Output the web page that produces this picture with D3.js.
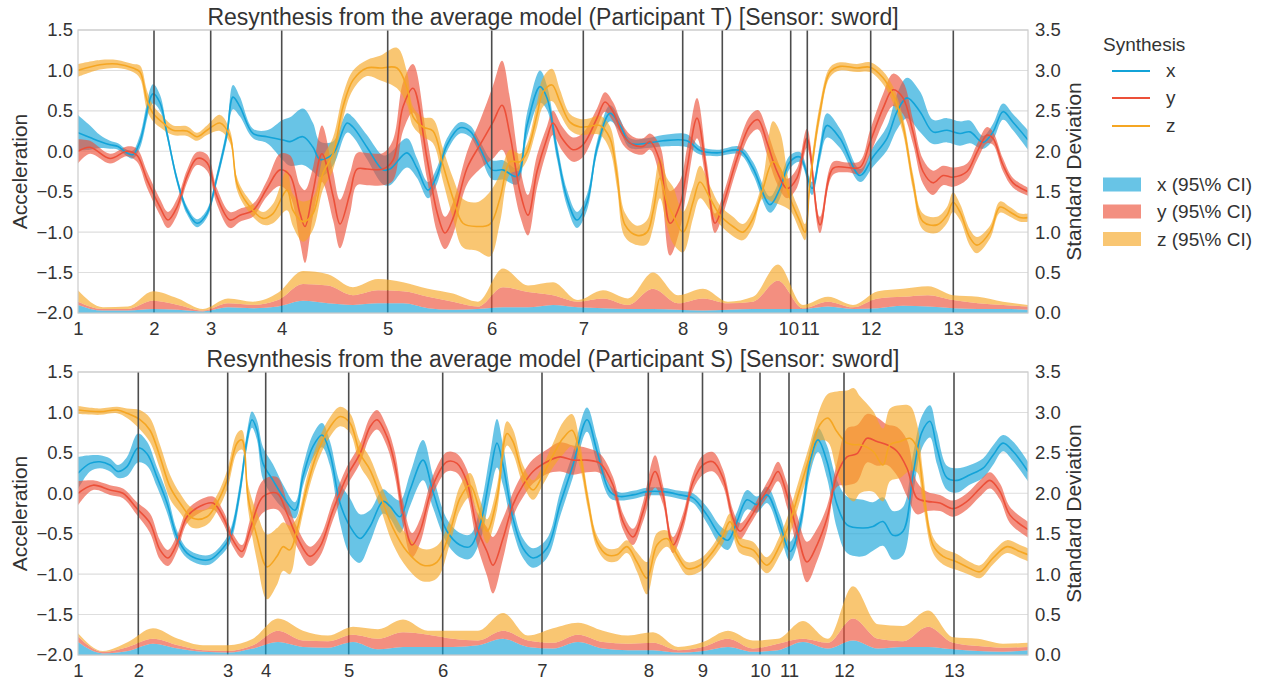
<!DOCTYPE html>
<html><head><meta charset="utf-8">
<script src="https://cdn.jsdelivr.net/npm/d3@7"></script>
<style>
body{margin:0;background:#fff}
svg text{font-family:"Liberation Sans",Arial,sans-serif;fill:#333}
</style>
</head><body><svg id="c" width="1265" height="680"></svg>
<script>
// ---------- DATA ----------
const segLabels = ["1","2","3","4","5","6","7","8","9","10","11","12","13"];
const segT = [0, 76, 132.7, 203.7, 309.7, 413.7, 505.3, 604.7, 644.3, 712.7, 729.3, 792.7, 875.3];
const segS = [0, 60.3, 149.7, 187.7, 270.7, 364.7, 464, 570.3, 624.5, 682, 711, 766, 876];
const accTicks = [-2.0,-1.5,-1.0,-0.5,0.0,0.5,1.0,1.5];
const sdTicks = [0.0,0.5,1.0,1.5,2.0,2.5,3.0,3.5];
const seriesNames = ["x","y","z"];
const titles = ["Resynthesis from the average model (Participant T) [Sensor: sword]",
                "Resynthesis from the average model (Participant S) [Sensor: sword]"];

// [time, mean, 95% CI half-width]  -- Participant T
const xT = [[0,0.23,0.22],[12,0.17,0.15],[22,0.12,0.08],[32,0.08,0.05],[40,0.06,0.04],[49,-0.02,0.04],[55,-0.04,0.05],[62,0.12,0.08],[75,0.71,0.12],[82,0.6,0.1],[89,0.22,0.06],[99,-0.35,0.05],[109,-0.73,0.05],[119,-0.89,0.05],[129,-0.77,0.05],[139,-0.32,0.06],[149,0.22,0.08],[155,0.67,0.15],[162,0.55,0.12],[175,0.22,0.06],[189,0.18,0.08],[205,0.14,0.25],[212,0.12,0.3],[225,0.18,0.35],[235,0.05,0.3],[242,-0.1,0.22],[255,-0.03,0.15],[269,0.35,0.12],[275,0.3,0.12],[289,0.05,0.15],[305,-0.23,0.18],[312,-0.22,0.2],[329,-0.02,0.18],[339,-0.21,0.12],[350,-0.48,0.1],[359,-0.3,0.1],[369,0.08,0.08],[382,0.29,0.07],[392,0.25,0.07],[402,0.04,0.08],[414,-0.23,0.12],[425,-0.23,0.12],[439,-0.31,0.1],[449,0.32,0.15],[462,0.8,0.2],[469,0.66,0.15],[479,0.0,0.1],[489,-0.58,0.1],[499,-0.85,0.1],[509,-0.63,0.1],[519,0.04,0.08],[532,0.47,0.1],[542,0.32,0.08],[552,0.1,0.06],[569,0.1,0.06],[585,0.13,0.07],[609,0.13,0.08],[622,0.01,0.05],[639,-0.02,0.04],[662,0.01,0.05],[675,-0.21,0.08],[692,-0.66,0.1],[702,-0.46,0.12],[712,-0.13,0.08],[722,-0.07,0.06],[734,-0.46,0.08],[742,-0.01,0.1],[749,0.32,0.15],[762,0.16,0.12],[782,-0.3,0.08],[795,-0.07,0.12],[809,0.16,0.15],[819,0.49,0.22],[829,0.66,0.25],[842,0.49,0.25],[855,0.24,0.15],[869,0.26,0.15],[882,0.22,0.15],[892,0.24,0.14],[905,0.11,0.08],[915,0.24,0.1],[925,0.49,0.1],[935,0.36,0.1],[950,0.14,0.12]];
const yT = [[0,0.0,0.15],[12,0.05,0.08],[32,-0.09,0.06],[49,0.0,0.06],[59,-0.05,0.08],[69,-0.35,0.1],[82,-0.69,0.1],[90,-0.85,0.1],[99,-0.69,0.1],[109,-0.31,0.08],[119,-0.09,0.08],[129,-0.14,0.1],[139,-0.56,0.1],[152,-0.85,0.1],[162,-0.79,0.08],[175,-0.73,0.08],[189,-0.46,0.1],[202,-0.23,0.2],[212,-0.3,0.25],[222,-0.77,0.35],[227,-0.93,0.45],[235,-0.5,0.3],[244,-0.03,0.35],[255,-0.55,0.3],[262,-0.9,0.3],[272,-0.52,0.25],[279,-0.22,0.2],[289,-0.22,0.2],[305,-0.22,0.2],[315,-0.11,0.25],[325,0.55,0.3],[335,0.78,0.3],[349,-0.09,0.25],[359,-0.75,0.25],[367,-1.01,0.2],[375,-0.83,0.2],[389,-0.21,0.2],[402,0.08,0.3],[415,0.36,0.45],[424,0.57,0.55],[432,0.2,0.45],[442,-0.5,0.3],[450,-0.79,0.25],[459,-0.25,0.2],[469,0.16,0.15],[475,0.35,0.15],[484,0.16,0.15],[495,0.02,0.15],[505,0.08,0.15],[519,0.41,0.12],[527,0.61,0.12],[535,0.49,0.12],[545,0.2,0.12],[555,0.08,0.1],[565,0.06,0.1],[572,0.12,0.1],[582,-0.13,0.2],[592,-0.89,0.4],[602,-0.66,0.3],[609,-0.21,0.25],[619,0.41,0.25],[629,-0.3,0.15],[637,-0.89,0.12],[645,-0.66,0.12],[659,-0.09,0.12],[672,0.32,0.12],[680,0.39,0.12],[689,0.11,0.15],[699,-0.25,0.15],[709,-0.46,0.12],[719,-0.33,0.12],[729,0.16,0.12],[742,-0.91,0.1],[755,-0.21,0.08],[769,-0.2,0.06],[782,-0.2,0.08],[792,0.11,0.15],[805,0.53,0.18],[815,0.76,0.2],[825,0.66,0.2],[835,0.24,0.15],[845,-0.25,0.15],[855,-0.39,0.15],[865,-0.3,0.12],[875,-0.32,0.12],[889,-0.25,0.1],[899,-0.01,0.1],[909,0.2,0.1],[915,0.16,0.08],[925,-0.17,0.08],[935,-0.39,0.06],[950,-0.5,0.05]];
const zT = [[0,1.0,0.08],[22,1.07,0.06],[39,1.08,0.05],[55,1.03,0.05],[62,0.98,0.08],[69,0.63,0.12],[75,0.47,0.1],[85,0.35,0.08],[95,0.26,0.06],[109,0.25,0.06],[119,0.18,0.05],[129,0.26,0.06],[142,0.35,0.1],[152,0.18,0.08],[159,-0.4,0.08],[169,-0.64,0.08],[185,-0.83,0.08],[195,-0.77,0.12],[209,-0.48,0.25],[215,-0.73,0.2],[225,-0.87,0.25],[235,-0.77,0.2],[245,-0.27,0.2],[255,-0.03,0.2],[265,0.55,0.15],[275,0.88,0.12],[289,1.03,0.1],[302,1.03,0.15],[319,1.03,0.25],[329,0.78,0.2],[335,0.43,0.12],[345,0.3,0.12],[355,0.25,0.15],[365,-0.17,0.2],[375,-0.58,0.25],[385,-0.89,0.3],[399,-0.93,0.3],[412,-0.9,0.4],[422,-0.58,0.3],[432,-0.13,0.15],[442,-0.13,0.1],[449,-0.01,0.1],[459,0.45,0.15],[465,0.73,0.18],[474,0.82,0.2],[482,0.61,0.15],[492,0.36,0.1],[502,0.3,0.1],[512,0.31,0.1],[522,0.32,0.12],[532,0.16,0.15],[539,-0.3,0.15],[547,-0.91,0.15],[559,-1.04,0.12],[569,-1.0,0.15],[575,-0.75,0.2],[582,-0.33,0.25],[589,-0.63,0.3],[595,-0.79,0.35],[605,-1.0,0.25],[615,-0.63,0.2],[622,-0.38,0.2],[632,-0.58,0.15],[642,-0.79,0.12],[655,-0.93,0.12],[665,-1.0,0.1],[675,-0.83,0.1],[685,-0.46,0.12],[695,-0.13,0.5],[702,-0.21,0.45],[712,-0.58,0.15],[722,-0.87,0.12],[727,-1.0,0.1],[732,-0.38,0.1],[742,0.49,0.1],[752,0.98,0.06],[762,1.05,0.05],[779,1.03,0.05],[792,1.04,0.06],[805,0.91,0.08],[815,0.7,0.1],[825,0.32,0.1],[835,-0.38,0.1],[845,-0.87,0.1],[859,-0.91,0.1],[869,-0.79,0.1],[875,-0.63,0.12],[882,-0.75,0.1],[892,-1.07,0.1],[899,-1.16,0.1],[912,-1.0,0.08],[922,-0.69,0.07],[932,-0.75,0.06],[942,-0.82,0.05],[950,-0.82,0.05]];

// Participant S
const xS = [[0,0.25,0.2],[12,0.37,0.1],[22,0.39,0.08],[32,0.35,0.08],[40,0.27,0.08],[49,0.33,0.12],[60,0.56,0.18],[69,0.49,0.15],[79,0.2,0.12],[89,-0.12,0.12],[99,-0.54,0.08],[109,-0.74,0.06],[122,-0.82,0.06],[132,-0.82,0.06],[142,-0.72,0.06],[152,-0.54,0.08],[162,0.04,0.1],[169,0.66,0.1],[174,0.91,0.1],[179,0.78,0.12],[185,0.37,0.2],[195,0.16,0.2],[205,-0.04,0.15],[217,-0.21,0.1],[225,0.21,0.12],[235,0.58,0.15],[244,0.72,0.15],[252,0.49,0.15],[262,-0.12,0.25],[272,-0.41,0.35],[282,-0.56,0.3],[292,-0.41,0.2],[305,-0.1,0.15],[312,-0.16,0.15],[322,-0.29,0.2],[332,0.04,0.2],[345,0.41,0.25],[355,0.02,0.2],[369,-0.47,0.15],[382,-0.64,0.15],[392,-0.66,0.15],[402,-0.39,0.2],[412,0.23,0.25],[419,0.62,0.3],[425,0.35,0.25],[435,-0.31,0.15],[445,-0.68,0.12],[455,-0.8,0.12],[469,-0.68,0.12],[482,-0.14,0.15],[495,0.35,0.15],[509,0.91,0.15],[519,0.52,0.15],[532,0.02,0.08],[542,-0.04,0.05],[555,-0.02,0.05],[569,0.02,0.05],[585,0.02,0.05],[602,-0.02,0.05],[615,-0.06,0.06],[629,-0.27,0.1],[642,-0.52,0.12],[650,-0.58,0.12],[659,-0.35,0.12],[669,-0.08,0.12],[679,-0.14,0.1],[689,-0.02,0.1],[702,-0.39,0.12],[712,-0.72,0.12],[722,-0.39,0.12],[732,0.39,0.15],[740,0.66,0.15],[749,0.39,0.2],[759,-0.14,0.3],[769,-0.39,0.35],[785,-0.43,0.35],[795,-0.41,0.3],[805,-0.35,0.3],[815,-0.52,0.3],[825,-0.47,0.3],[835,0.23,0.25],[844,0.76,0.2],[852,0.89,0.2],[859,0.56,0.2],[869,0.19,0.15],[879,0.16,0.15],[892,0.23,0.12],[905,0.31,0.12],[915,0.47,0.12],[925,0.62,0.1],[935,0.52,0.12],[950,0.27,0.12]];
const yS = [[0,0.0,0.15],[15,0.1,0.06],[32,0.04,0.06],[45,0.0,0.06],[59,-0.19,0.08],[72,-0.37,0.12],[82,-0.7,0.12],[90,-0.8,0.1],[99,-0.62,0.1],[109,-0.29,0.08],[122,-0.16,0.08],[135,-0.12,0.08],[145,-0.29,0.08],[155,-0.58,0.08],[164,-0.72,0.08],[172,-0.45,0.12],[185,-0.04,0.2],[199,0.0,0.2],[209,-0.25,0.15],[219,-0.54,0.12],[232,-0.78,0.12],[242,-0.66,0.12],[255,-0.21,0.12],[269,0.21,0.12],[282,0.49,0.12],[292,0.82,0.12],[299,0.91,0.12],[309,0.7,0.12],[317,0.35,0.15],[325,-0.25,0.15],[334,-0.64,0.15],[342,-0.47,0.15],[355,0.1,0.12],[369,0.39,0.12],[379,0.37,0.12],[389,0.14,0.15],[399,-0.43,0.2],[409,-0.72,0.3],[415,-0.89,0.35],[425,-0.56,0.25],[435,-0.14,0.15],[445,0.1,0.15],[455,0.27,0.15],[469,0.39,0.15],[482,0.45,0.18],[495,0.41,0.18],[509,0.41,0.15],[522,0.37,0.12],[535,0.1,0.1],[545,-0.35,0.1],[555,-0.54,0.1],[565,-0.23,0.12],[577,0.27,0.2],[585,-0.02,0.12],[595,-0.64,0.1],[605,-0.35,0.1],[615,0.14,0.1],[625,0.35,0.12],[635,0.39,0.12],[645,0.19,0.1],[655,-0.31,0.1],[662,-0.47,0.1],[672,-0.31,0.08],[682,-0.1,0.08],[692,0.1,0.1],[700,0.27,0.12],[709,-0.02,0.15],[719,-0.47,0.2],[729,-0.85,0.25],[739,-0.64,0.2],[749,-0.31,0.15],[759,0.23,0.15],[769,0.45,0.35],[779,0.49,0.35],[789,0.68,0.3],[799,0.64,0.3],[809,0.6,0.25],[819,0.52,0.3],[829,0.31,0.35],[839,-0.06,0.2],[849,-0.1,0.12],[862,-0.12,0.1],[875,-0.19,0.1],[889,-0.1,0.1],[902,0.06,0.1],[912,0.16,0.1],[922,0.02,0.1],[932,-0.27,0.1],[950,-0.45,0.1]];
const zS = [[0,1.03,0.05],[22,1.01,0.04],[39,1.03,0.04],[49,0.99,0.06],[62,0.91,0.12],[72,0.78,0.15],[82,0.45,0.15],[92,0.08,0.15],[102,-0.12,0.12],[115,-0.31,0.12],[129,-0.29,0.1],[139,-0.12,0.1],[149,0.16,0.12],[159,0.62,0.12],[164,0.66,0.12],[170,-0.04,0.15],[179,-0.54,0.3],[189,-0.91,0.4],[199,-0.78,0.35],[205,-0.66,0.3],[212,-0.7,0.3],[219,-0.45,0.15],[229,0.08,0.12],[239,0.49,0.12],[252,0.82,0.12],[262,0.95,0.12],[272,0.87,0.12],[282,0.49,0.15],[292,0.29,0.15],[302,-0.02,0.15],[315,-0.43,0.2],[329,-0.72,0.2],[345,-0.89,0.2],[359,-0.85,0.2],[372,-0.47,0.15],[382,-0.06,0.15],[392,0.1,0.15],[402,-0.23,0.15],[409,-0.47,0.15],[419,-0.06,0.15],[429,0.74,0.15],[435,0.64,0.15],[445,0.23,0.12],[455,0.04,0.12],[465,0.23,0.12],[475,0.47,0.15],[485,0.68,0.2],[494,0.78,0.2],[502,0.47,0.15],[510,-0.1,0.1],[519,-0.6,0.08],[529,-0.76,0.08],[539,-0.76,0.08],[549,-0.66,0.08],[559,-0.85,0.12],[569,-1.05,0.2],[579,-0.64,0.15],[589,-0.56,0.1],[599,-0.76,0.08],[609,-0.93,0.08],[622,-0.89,0.08],[635,-0.72,0.08],[645,-0.52,0.1],[652,-0.35,0.1],[662,-0.64,0.1],[675,-0.7,0.1],[689,-0.89,0.1],[702,-0.64,0.12],[712,-0.35,0.15],[722,0.06,0.15],[732,0.47,0.15],[742,0.85,0.2],[750,0.93,0.3],[759,0.76,0.5],[769,0.62,0.65],[776,0.6,0.7],[782,0.6,0.6],[795,0.52,0.5],[805,0.35,0.45],[812,0.6,0.45],[822,0.64,0.45],[832,0.68,0.4],[839,0.56,0.3],[845,0.06,0.2],[855,-0.64,0.1],[865,-0.78,0.1],[879,-0.85,0.1],[892,-0.93,0.08],[902,-0.97,0.08],[915,-0.8,0.08],[929,-0.66,0.08],[942,-0.72,0.08],[950,-0.76,0.08]];

// Standard deviation (stacked), sampled on sdTime
const sdTime = [0,25,50,75,100,125,150,175,200,225,250,275,300,325,350,375,400,425,450,475,500,525,550,575,600,625,650,675,700,725,750,775,800,825,850,875,900,925,950];
const sdXT = [0.10,0.03,0.03,0.05,0.04,0.02,0.07,0.06,0.08,0.15,0.12,0.10,0.12,0.12,0.06,0.04,0.05,0.07,0.07,0.10,0.07,0.06,0.05,0.05,0.04,0.03,0.04,0.05,0.05,0.05,0.08,0.05,0.06,0.09,0.08,0.06,0.05,0.05,0.04];
const sdYT = [0.04,0.02,0.02,0.10,0.06,0.01,0.05,0.04,0.08,0.21,0.22,0.12,0.16,0.15,0.14,0.10,0.03,0.25,0.19,0.12,0.07,0.12,0.05,0.25,0.08,0.15,0.08,0.09,0.35,0.01,0.06,0.02,0.12,0.11,0.14,0.10,0.07,0.05,0.04];
const sdZT = [0.14,0.02,0.03,0.12,0.08,0.02,0.06,0.04,0.09,0.16,0.14,0.10,0.14,0.11,0.10,0.10,0.06,0.23,0.08,0.16,0.02,0.10,0.08,0.20,0.10,0.12,0.02,0.06,0.20,0.04,0.06,0.03,0.09,0.10,0.11,0.06,0.08,0.04,0.02];
const sdXS = [0.16,0.02,0.05,0.14,0.08,0.04,0.03,0.08,0.16,0.10,0.09,0.16,0.07,0.10,0.10,0.10,0.12,0.20,0.10,0.08,0.16,0.08,0.06,0.06,0.03,0.05,0.10,0.04,0.06,0.16,0.08,0.18,0.08,0.10,0.10,0.07,0.05,0.04,0.06];
const sdYS = [0.07,0.02,0.05,0.06,0.04,0.02,0.02,0.04,0.14,0.08,0.08,0.09,0.13,0.18,0.15,0.10,0.06,0.10,0.08,0.07,0.09,0.08,0.08,0.09,0.03,0.05,0.10,0.04,0.08,0.04,0.07,0.27,0.12,0.07,0.25,0.08,0.06,0.05,0.04];
const sdZS = [0.04,0.01,0.06,0.13,0.08,0.06,0.07,0.08,0.15,0.12,0.07,0.10,0.12,0.16,0.05,0.10,0.12,0.22,0.06,0.18,0.15,0.14,0.10,0.13,0.04,0.06,0.10,0.10,0.06,0.22,0.05,0.40,0.18,0.19,0.20,0.07,0.09,0.05,0.05];

// ---------- DRAW ----------
const W = 1265, H = 680;
const colors = {x:"#13a3d8", y:"#ec5039", z:"#f5a623"};
const bandOpacity = 0.64;
const curve = d3.curveCatmullRom.alpha(0.5);
const svg = d3.select("#c");
svg.append("rect").attr("width",W).attr("height",H).attr("fill","#fff");

const left = 78, right = 1028;
const X = d3.scaleLinear().domain([0,950]).range([left,right]);

const panels = [
  {top:30, bottom:313, title:titles[0], seg:segT, data:{x:xT,y:yT,z:zT}, sd:{x:sdXT,y:sdYT,z:sdZT}},
  {top:372, bottom:655, title:titles[1], seg:segS, data:{x:xS,y:yS,z:zS}, sd:{x:sdXS,y:sdYS,z:sdZS}}
];

panels.forEach((p, pi) => {
  const Y = d3.scaleLinear().domain([-2,1.5]).range([p.bottom,p.top]);
  const Ysd = d3.scaleLinear().domain([0,3.5]).range([p.bottom,p.top]);
  const g = svg.append("g");
  const clipId = "clip"+pi;
  svg.append("clipPath").attr("id",clipId).append("rect")
    .attr("x",left).attr("y",p.top).attr("width",right-left).attr("height",p.bottom-p.top);

  // grid
  g.append("g").selectAll("line").data(accTicks).join("line")
    .attr("x1",left).attr("x2",right).attr("y1",d=>Y(d)).attr("y2",d=>Y(d))
    .attr("stroke","#dedede").attr("stroke-width",1.1);

  const plot = g.append("g").attr("clip-path",`url(#${clipId})`);

  // CI bands
  seriesNames.forEach(k => {
    const area = d3.area().x(d=>X(d[0])).y0(d=>Y(d[1]-d[2])).y1(d=>Y(d[1]+d[2])).curve(curve);
    plot.append("path").datum(p.data[k]).attr("d",area)
      .attr("fill",colors[k]).attr("fill-opacity",bandOpacity);
  });
  // mean lines
  seriesNames.forEach(k => {
    const line = d3.line().x(d=>X(d[0])).y(d=>Y(d[1])).curve(curve);
    plot.append("path").datum(p.data[k]).attr("d",line)
      .attr("fill","none").attr("stroke",colors[k]).attr("stroke-width",1.6);
  });
  // segment lines
  plot.append("g").selectAll("line").data(p.seg.slice(1)).join("line")
    .attr("x1",d=>X(d)).attr("x2",d=>X(d)).attr("y1",p.top).attr("y2",p.bottom)
    .attr("stroke","#4d4d4d").attr("stroke-width",1.6);

  // stacked SD
  const rows = sdTime.map((t,i)=>({t, x:p.sd.x[i], y:p.sd.y[i], z:p.sd.z[i]}));
  const stack = d3.stack().keys(seriesNames)(rows);
  const sdArea = d3.area().x(d=>X(d.data.t)).y0(d=>Ysd(d[0])).y1(d=>Ysd(d[1])).curve(d3.curveMonotoneX);
  stack.forEach(s => {
    plot.append("path").datum(s).attr("d",sdArea)
      .attr("fill",colors[s.key]).attr("fill-opacity",bandOpacity);
  });

  // frame
  g.append("rect").attr("x",left).attr("y",p.top).attr("width",right-left).attr("height",p.bottom-p.top)
    .attr("fill","none").attr("stroke","#cccccc").attr("stroke-width",1.2);

  // axes
  const fmt = d3.format(".1f");
  const ax = g.append("g").attr("transform",`translate(${left},0)`)
    .call(d3.axisLeft(Y).tickValues(accTicks).tickFormat(fmt).tickSize(0).tickPadding(5));
  const ar = g.append("g").attr("transform",`translate(${right},0)`)
    .call(d3.axisRight(Ysd).tickValues(sdTicks).tickFormat(fmt).tickSize(0).tickPadding(7));
  const ab = g.append("g").attr("transform",`translate(0,${p.bottom})`)
    .call(d3.axisBottom(X).tickValues(p.seg).tickFormat((d,i)=>segLabels[i]).tickSize(0).tickPadding(9));
  [ax,ar,ab].forEach(a => {
    a.select(".domain").remove();
    a.selectAll("text").attr("font-size",18.5).attr("fill","#333")
      .style("font-family",'"Liberation Sans",Arial,sans-serif');
  });
  // labels of closely spaced segments: nudge apart so they just touch
  ab.selectAll(".tick text").attr("dx",(d,i)=>{
    const prev = i>0 ? X(p.seg[i]) - X(p.seg[i-1]) : 99;
    const next = i<p.seg.length-1 ? X(p.seg[i+1]) - X(p.seg[i]) : 99;
    if (next < 21) return -(21-next)/2 - 0.3;
    if (prev < 21) return (21-prev)/2 + 0.3;
    return 0;
  });

  // labels
  const mid = (p.top+p.bottom)/2;
  g.append("text").attr("transform",`translate(27,${mid}) rotate(-90)`)
    .attr("text-anchor","middle").attr("font-size",21).text("Acceleration");
  g.append("text").attr("transform",`translate(1081,${mid}) rotate(-90)`)
    .attr("text-anchor","middle").attr("font-size",21).text("Standard Deviation");
  g.append("text").attr("x",(left+right)/2).attr("y",p.top-5)
    .attr("text-anchor","middle").attr("font-size",23).text(p.title);
});

// legend
const lg = svg.append("g");
lg.append("text").attr("x",1103).attr("y",51).attr("font-size",19).text("Synthesis");
const legLineY = [71,98,126];
seriesNames.forEach((k,i) => {
  lg.append("line").attr("x1",1112).attr("x2",1150).attr("y1",legLineY[i]).attr("y2",legLineY[i])
    .attr("stroke",colors[k]).attr("stroke-width",2);
  lg.append("text").attr("x",1166).attr("y",legLineY[i]+6).attr("font-size",19).text(k);
});
const legPatchY = [184.5,211.5,239];
seriesNames.forEach((k,i) => {
  lg.append("rect").attr("x",1103).attr("y",legPatchY[i]-7).attr("width",38).attr("height",14)
    .attr("fill",colors[k]).attr("fill-opacity",bandOpacity);
  lg.append("text").attr("x",1157).attr("y",legPatchY[i]+6.5).attr("font-size",19).text(k+" (95\\% CI)");
});
</script>
</body></html>
